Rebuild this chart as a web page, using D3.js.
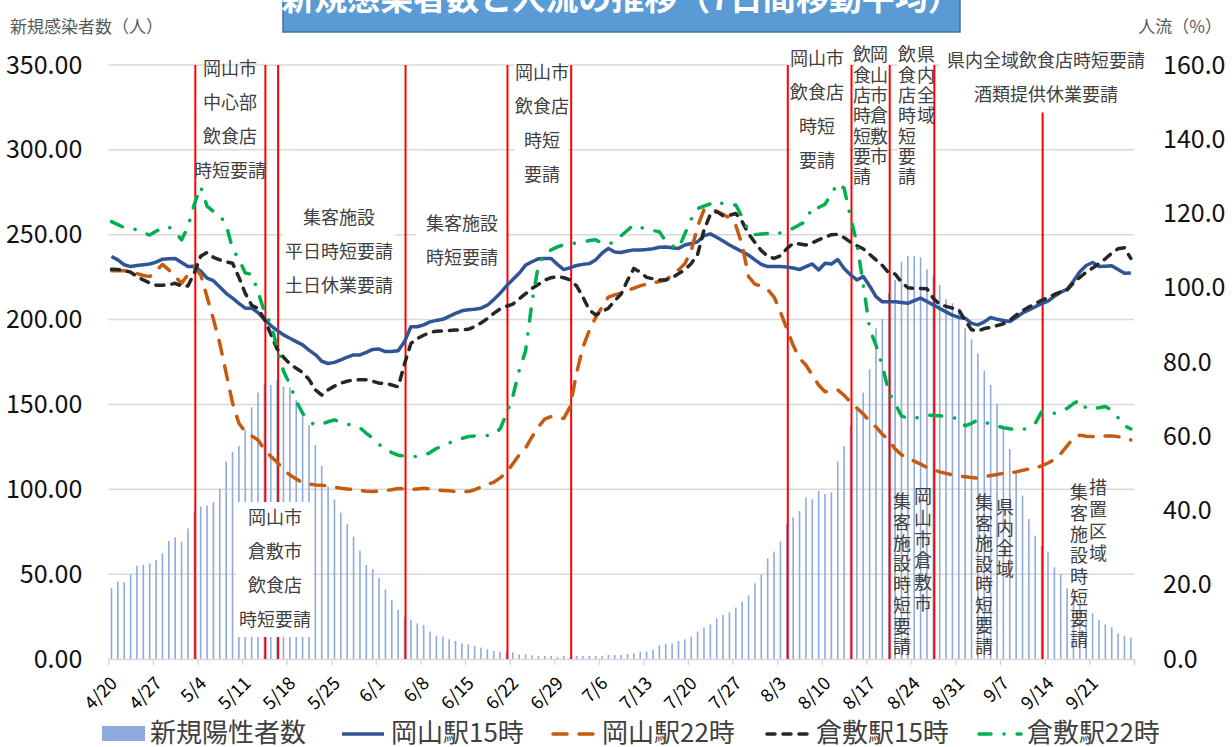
<!DOCTYPE html>
<html>
<head>
<meta charset="utf-8">
<script src="https://cdn.jsdelivr.net/npm/d3@7"></script>
<style>
  body { margin: 0; background: #fff; }
  svg { display: block; font-family: "Noto Sans CJK JP", "Noto Sans", sans-serif; }
</style>
</head>
<body>
<svg id="chart" width="1232" height="747"></svg>
<script>
// daily categories 4/20 .. 9/27
const DAYS = d3.timeDay.range(new Date(2021, 3, 20), new Date(2021, 8, 28));

// 新規陽性者数 (7日間移動平均, left axis)
const CASES = [
  41.7, 45.6, 45.2, 49.9, 55.0, 55.4, 56.4, 58.3, 62.3, 69.5,
  71.7, 69.1, 77.0, 86.8, 89.8, 90.3, 92.3, 100.2, 116.3, 122.0,
  125.5, 135.0, 148.3, 157.0, 162.0, 161.5, 164.4, 160.5, 160.0, 152.6,
  145.7, 137.9, 126.1, 113.7, 101.5, 94.1, 86.2, 79.4, 72.1, 63.8,
  55.4, 52.9, 47.7, 41.1, 34.8, 28.9, 24.9, 23.0, 21.0, 20.0,
  16.1, 13.6, 13.2, 11.6, 10.6, 9.2, 8.6, 7.7, 6.7, 5.7,
  4.7, 4.3, 4.3, 3.9, 2.7, 2.7, 2.2, 1.8, 1.8, 1.8,
  1.2, 1.8, 0.8, 1.8, 1.8, 1.8, 1.8, 1.8, 2.4, 2.4,
  2.4, 3.0, 3.3, 4.3, 4.3, 5.3, 8.1, 8.8, 9.2, 10.6,
  11.6, 13.2, 16.1, 18.5, 20.4, 24.0, 26.0, 27.5, 30.3, 33.8,
  37.5, 44.6, 49.5, 59.3, 63.3, 69.2, 79.6, 83.5, 87.2, 95.1,
  94.1, 99.0, 97.2, 98.2, 116.3, 125.5, 137.3, 149.1, 157.0, 170.7,
  194.9, 200.2, 215.5, 223.3, 234.1, 237.5, 237.5, 236.7, 229.6, 226.1,
  220.4, 212.0, 209.6, 206.7, 194.9, 188.4, 180.0, 169.9, 161.5, 150.3,
  135.9, 123.7, 109.4, 96.2, 82.5, 72.7, 66.6, 63.3, 54.0, 50.1,
  41.7, 36.7, 31.8, 29.0, 26.9, 23.0, 20.4, 18.7, 15.1, 13.7,
  12.6
];

// 人流 (%, right axis)
const OKAYAMA_15 = [
  108.4, 107.5, 106.2, 105.7, 106.0, 106.2, 106.4, 106.9, 107.7, 107.8,
  107.9, 106.8, 105.7, 105.8, 104.5, 102.6, 101.9, 100.2, 98.5, 97.2,
  95.8, 94.5, 94.5, 93.3, 91.5, 89.8, 88.5, 87.3, 86.4, 85.5,
  84.6, 83.2, 82.0, 80.2, 79.6, 79.9, 80.6, 81.3, 81.9, 81.9,
  82.6, 83.4, 83.5, 82.8, 82.8, 83.0, 85.5, 89.5, 89.5, 90.0,
  90.8, 91.2, 91.5, 92.3, 93.1, 93.8, 94.1, 94.2, 94.5, 95.3,
  96.8, 98.5, 100.5, 102.2, 103.9, 106.1, 107.0, 107.8, 107.9, 107.9,
  106.3, 104.9, 105.4, 106.0, 106.3, 106.5, 107.5, 109.3, 110.6, 109.6,
  109.5, 109.9, 110.2, 110.2, 110.3, 110.5, 110.9, 111.0, 110.8, 110.6,
  111.5, 111.9, 112.4, 114.0, 114.5, 113.6, 112.6, 111.5, 110.6, 109.7,
  108.8, 107.5, 106.3, 105.7, 105.7, 105.7, 105.6, 105.3, 104.9, 105.7,
  106.4, 104.8, 106.6, 106.4, 107.6, 105.2, 103.5, 102.1, 103.0, 100.5,
  97.6, 96.2, 96.2, 96.2, 96.0, 95.8, 96.5, 97.2, 96.3, 95.4,
  94.4, 93.5, 92.6, 92.0, 91.8, 90.4, 90.0, 90.8, 92.0, 91.5,
  91.2, 90.9, 92.0, 93.2, 94.0, 94.9, 95.7, 96.4, 97.7, 98.8,
  99.6, 101.8, 104.3, 106.0, 106.8, 105.7, 105.8, 105.9, 104.9, 103.9,
  104.0
];

const OKAYAMA_22 = [
  104.6, 104.6, 104.6, 104.3, 103.8, 103.3, 103.0, 104.5, 106.3, 104.8,
  103.0, 101.2, 103.5, 105.5, 103.5, 97.5, 91.5, 85.0, 77.0, 69.0,
  63.5, 61.2, 60.1, 59.0, 56.5, 54.6, 53.0, 51.0, 49.6, 48.5,
  47.4, 47.1, 46.9, 46.8, 46.6, 46.3, 46.0, 45.8, 45.6, 45.4,
  45.2, 45.1, 45.2, 45.4, 45.6, 45.9, 45.8, 45.6, 45.8, 46.0,
  45.8, 45.5, 45.4, 45.3, 45.1, 45.1, 45.1, 45.6, 46.3, 47.0,
  47.6, 48.8, 50.2, 52.6, 55.0, 56.8, 59.8, 62.5, 64.6, 65.3,
  65.1, 64.8, 68.0, 77.0, 84.0, 88.5, 92.0, 94.8, 97.5, 98.1,
  98.5, 99.2, 99.9, 100.5, 101.0, 101.3, 101.7, 102.1, 103.4, 104.8,
  106.5, 110.0, 116.5, 121.0, 121.2, 120.6, 119.8, 118.8, 116.8, 111.5,
  103.0, 101.0, 100.4, 99.5, 97.5, 93.5, 89.0, 84.5, 81.0, 79.2,
  76.5, 73.8, 72.0, 72.2, 72.5, 71.0, 69.2, 67.6, 66.0, 64.0,
  62.5, 60.5, 59.0, 56.6, 55.0, 54.1, 53.3, 52.5, 51.6, 51.0,
  50.4, 50.0, 49.6, 49.3, 49.1, 48.9, 48.7, 49.1, 49.4, 49.7,
  50.0, 50.2, 50.4, 50.8, 51.2, 51.5, 52.0, 52.8, 53.7, 55.3,
  57.4, 59.5, 60.3, 60.0, 59.9, 60.0, 60.1, 60.1, 59.9, 59.5,
  59.0
];

const KURASHIKI_15 = [
  105.0, 104.9, 104.7, 104.2, 103.0, 102.1, 101.3, 100.7, 100.7, 100.8,
  101.2, 100.4, 100.5, 104.0, 108.5, 109.5, 108.2, 107.5, 107.0, 106.6,
  102.8, 98.5, 95.3, 94.4, 91.5, 87.5, 83.5, 81.3, 79.5, 78.3,
  77.2, 75.3, 72.5, 71.1, 72.5, 73.5, 74.3, 74.8, 75.2, 75.2,
  75.2, 74.8, 74.3, 74.3, 73.8, 73.3, 79.5, 85.0, 86.3, 87.2,
  88.0, 88.3, 88.4, 88.5, 88.6, 88.7, 88.8, 89.5, 90.5, 91.7,
  93.1, 94.3, 95.0, 95.6, 97.0, 98.4, 99.8, 100.9, 102.0, 102.7,
  103.0, 102.7, 102.1, 100.5, 97.5, 94.0, 92.7, 93.5, 94.5, 96.5,
  98.3, 102.0, 105.2, 104.2, 102.8, 102.4, 102.1, 102.1, 102.7, 103.8,
  104.8, 106.5, 109.0, 115.5, 119.8, 120.5, 119.4, 119.5, 120.0, 117.8,
  114.5, 112.2, 110.0, 108.5, 107.9, 108.6, 110.5, 112.0, 111.8, 111.5,
  112.1, 112.9, 113.6, 114.3, 114.4, 113.5, 112.3, 111.3, 110.5, 109.0,
  107.5, 106.0, 104.0, 103.7, 101.5, 100.0, 99.8, 99.8, 99.7, 97.2,
  95.5, 95.0, 94.5, 94.0, 91.2, 88.7, 88.3, 89.0, 89.3, 89.8,
  90.3, 91.2, 92.6, 93.8, 94.8, 95.7, 96.6, 97.3, 98.2, 98.9,
  99.4, 101.3, 102.8, 104.2, 105.3, 106.5, 107.8, 109.3, 110.5, 110.8,
  107.9
];

const KURASHIKI_22 = [
  117.8, 117.0, 116.2, 116.0, 115.6, 114.8, 114.2, 115.2, 116.1, 116.4,
  115.0, 112.9, 116.4, 122.5, 127.2, 122.0, 120.5, 119.5, 117.0, 110.5,
  107.7, 104.0, 103.6, 99.0, 93.5, 90.3, 84.0, 77.5, 74.0, 69.5,
  66.2, 64.0, 63.0, 63.3, 63.9, 64.4, 63.8, 63.3, 62.8, 62.3,
  60.8, 59.5, 57.8, 56.4, 55.6, 54.9, 54.7, 54.5, 54.6, 54.8,
  55.6, 56.7, 57.4, 58.2, 58.8, 59.4, 59.9, 60.1, 60.3, 60.2,
  60.5, 62.0, 66.0, 70.7, 77.8, 83.0, 96.0, 106.0, 109.0, 110.2,
  111.0, 111.6, 111.8, 112.1, 112.4, 112.7, 112.9, 112.0, 111.7, 112.5,
  114.0, 115.5, 116.9, 116.3, 115.7, 115.4, 115.1, 112.5, 111.3, 110.6,
  114.5, 118.5, 121.3, 122.0, 122.6, 123.4, 122.6, 122.3, 122.3, 119.0,
  115.2, 114.3, 114.5, 114.6, 114.2, 114.8, 115.4, 116.0, 117.0, 117.8,
  121.8, 121.6, 122.5, 125.4, 128.1, 126.8, 119.0, 112.0, 101.0, 89.0,
  84.5, 79.0, 72.0, 68.8, 65.5, 64.8, 64.8, 65.2, 65.7, 65.6,
  65.5, 65.3, 65.0, 64.8, 62.8, 63.5, 64.4, 63.9, 63.2, 62.8,
  62.3, 62.0, 61.8, 61.7, 62.5, 63.5, 66.6, 66.4, 66.2, 66.8,
  67.5, 68.8, 69.8, 67.5, 67.3, 67.7, 68.0, 67.0, 65.0, 62.8,
  62.0
];

// 要請の開始日 (red lines)
const EVENT_DATES = ['5/3', '5/14', '5/16', '6/5', '6/21', '7/1', '8/4', '8/14', '8/20', '8/27', '9/13'];
const EVENT_TOPS = [350, 350, 350, 350, 350, 350, 350, 350, 350, 350, 322];

const LEFT_TICKS = [0, 50, 100, 150, 200, 250, 300, 350];
const RIGHT_TICKS = [0, 20, 40, 60, 80, 100, 120, 140, 160];

const SERIES = [
  { name: '岡山駅15時', values: OKAYAMA_15, color: '#2f5597', dash: null },
  { name: '岡山駅22時', values: OKAYAMA_22, color: '#c55a11', dash: '14,12' },
  { name: '倉敷駅15時', values: KURASHIKI_15, color: '#262626', dash: '8,8' },
  { name: '倉敷駅22時', values: KURASHIKI_22, color: '#00b050', dash: '12,13,0.1,13' },
];

const svg = d3.select('#chart');
const M = { left: 108.3, right: 1134, top: 65, bottom: 659 };
const parseDay = (s) => {
  const [m, d] = s.split('/').map(Number);
  return new Date(2021, m - 1, d);
};

const x = d3
  .scaleTime()
  .domain([DAYS[0], d3.timeDay.offset(DAYS[DAYS.length - 1], 1)])
  .range([M.left, M.right]);
const bw = x(DAYS[1]) - x(DAYS[0]);
const cx = (d) => x(d) + bw / 2;
const y = d3.scaleLinear().domain([0, 350]).range([M.bottom, M.top]);
const y2 = d3.scaleLinear().domain([0, 160]).range([M.bottom, M.top]);

// gridlines
svg
  .append('g')
  .selectAll('line')
  .data(LEFT_TICKS.slice(1))
  .join('line')
  .attr('x1', M.left)
  .attr('x2', M.right)
  .attr('y1', (d) => y(d))
  .attr('y2', (d) => y(d))
  .attr('stroke', '#d9d9d9')
  .attr('stroke-width', 1.5);

// bars
svg
  .append('g')
  .selectAll('rect')
  .data(CASES)
  .join('rect')
  .attr('x', (d, i) => cx(DAYS[i]) - 0.8)
  .attr('width', 1.6)
  .attr('y', (d) => y(d))
  .attr('height', (d) => y(0) - y(d))
  .attr('fill', '#8faadc');

// x axis
const tickDays = DAYS.filter((d, i) => i % 7 === 0).concat([x.domain()[1]]);
const xAxis = svg
  .append('g')
  .attr('transform', `translate(0,${M.bottom})`)
  .call(
    d3
      .axisBottom(x)
      .tickValues(tickDays)
      .tickSize(6)
      .tickFormat((d, i) => (i === tickDays.length - 1 ? '' : `${d.getMonth() + 1}/${d.getDate()}`))
  );
xAxis.select('.domain').attr('stroke', '#d9d9d9').attr('stroke-width', 1.5);
xAxis.selectAll('.tick line').attr('stroke', '#d9d9d9').attr('stroke-width', 1.5);
xAxis
  .selectAll('.tick text')
  .attr('font-size', 18)
  .attr('font-family', '"Noto Sans CJK JP", sans-serif')
  .attr('fill', '#000')
  .attr('text-anchor', 'end')
  .attr('x', 0)
  .attr('y', 0)
  .attr('dy', '0.35em')
  .attr('transform', 'translate(5,21) rotate(-45)');

// y axes
const yAxis = svg
  .append('g')
  .attr('transform', `translate(${M.left},0)`)
  .call(d3.axisLeft(y).tickValues(LEFT_TICKS).tickFormat(d3.format('.2f')).tickSize(0).tickPadding(26));
const y2Axis = svg
  .append('g')
  .attr('transform', `translate(${M.right},0)`)
  .call(d3.axisRight(y2).tickValues(RIGHT_TICKS).tickFormat(d3.format('.1f')).tickSize(0).tickPadding(29));
[yAxis, y2Axis].forEach((a) => {
  a.select('.domain').remove();
  a.selectAll('text')
    .attr('font-size', 25)
    .attr('font-family', '"Noto Sans CJK JP", sans-serif')
    .attr('fill', '#111');
});

svg
  .append('text')
  .attr('x', 10)
  .attr('y', 27)
  .attr('dy', '0.35em')
  .attr('font-size', 17)
  .attr('fill', '#595959')
  .text('新規感染者数（人）');
svg
  .append('text')
  .attr('x', 1222)
  .attr('y', 27)
  .attr('dy', '0.35em')
  .attr('text-anchor', 'end')
  .attr('font-size', 17)
  .attr('fill', '#595959')
  .text('人流（%）');

// red lines for requests
svg
  .append('g')
  .selectAll('line')
  .data(EVENT_DATES)
  .join('line')
  .attr('x1', (d) => cx(parseDay(d)) + 1)
  .attr('x2', (d) => cx(parseDay(d)) + 1)
  .attr('y1', (d, i) => y(EVENT_TOPS[i]))
  .attr('y2', y(0))
  .attr('stroke', '#ff0000')
  .attr('stroke-width', 2);

// flow lines
const line = d3
  .line()
  .x((d, i) => cx(DAYS[i]))
  .y((d) => y2(d));
svg
  .append('g')
  .selectAll('path')
  .data(SERIES)
  .join('path')
  .attr('d', (s) => line(s.values))
  .attr('fill', 'none')
  .attr('stroke', (s) => s.color)
  .attr('stroke-width', 3.5)
  .attr('stroke-linecap', (s) => (s.dash ? 'round' : 'butt'))
  .attr('stroke-linejoin', 'round')
  .attr('stroke-dasharray', (s) => s.dash);

// annotations
const NOTES = [
  { lines: ['岡山市', '中心部', '飲食店', '時短要請'], x: 230, y: 69, gap: 34, box: null },
  { lines: ['集客施設', '平日時短要請', '土日休業要請'], x: 339, y: 218, gap: 34, box: [283, 200, 112, 104] },
  { lines: ['集客施設', '時短要請'], x: 462, y: 224, gap: 34, box: [416, 206, 90, 70] },
  { lines: ['岡山市', '飲食店', '時短', '要請'], x: 542, y: 73, gap: 34, box: [514, 52, 54, 140] },
  { lines: ['岡山市', '飲食店', '時短', '要請'], x: 817, y: 59, gap: 34, box: [791, 44, 58, 136] },
  { lines: ['県内全域飲食店時短要請', '酒類提供休業要請'], x: 1046, y: 61, gap: 34, box: [940, 46, 212, 66] },
  { lines: ['岡山市', '倉敷市', '飲食店', '時短要請'], x: 275, y: 518, gap: 34, box: [236, 502, 77, 135] },
];
const VNOTES = [
  { text: '飲食店時短要請', x: 862, y: 55, gap: 20.3, box: [855, 45, 33, 146] },
  { text: '岡山市倉敷市', x: 879, y: 55, gap: 20.3, box: null },
  { text: '飲食店時短要請', x: 907, y: 55, gap: 20.3, box: [897, 45, 36, 146] },
  { text: '県内全域', x: 926, y: 55, gap: 20.3, box: null },
  { text: '集客施設時短要請', x: 902, y: 502, gap: 20.7, box: null },
  { text: '岡山市倉敷市', x: 923, y: 497, gap: 21.3, box: null },
  { text: '集客施設時短要請', x: 984, y: 503, gap: 20.5, box: null },
  { text: '県内全域', x: 1005, y: 508, gap: 20.5, box: null },
  { text: '集客施設時短要請', x: 1079, y: 493, gap: 21, box: null },
  { text: '措置区域', x: 1098, y: 488, gap: 22, box: null },
];

const notes = svg.append('g').attr('font-size', 18).attr('fill', '#404040');
[...NOTES, ...VNOTES]
  .filter((n) => n.box)
  .forEach((n) => {
    notes
      .append('rect')
      .attr('x', n.box[0])
      .attr('y', n.box[1])
      .attr('width', n.box[2])
      .attr('height', n.box[3])
      .attr('fill', '#fff');
  });
NOTES.forEach((n) => {
  notes
    .selectAll(null)
    .data(n.lines)
    .join('text')
    .attr('x', n.x)
    .attr('y', (d, i) => n.y + i * n.gap)
    .attr('dy', '0.35em')
    .attr('text-anchor', 'middle')
    .text((d) => d);
});
VNOTES.forEach((n) => {
  notes
    .selectAll(null)
    .data(Array.from(n.text))
    .join('text')
    .attr('x', n.x)
    .attr('y', (d, i) => n.y + i * n.gap)
    .attr('dy', '0.35em')
    .attr('text-anchor', 'middle')
    .text((d) => d);
});

// title box
svg
  .append('rect')
  .attr('x', 283)
  .attr('y', -12)
  .attr('width', 677)
  .attr('height', 44)
  .attr('fill', '#5b9bd5')
  .attr('stroke', '#41719c')
  .attr('stroke-width', 1.5);
svg
  .append('text')
  .attr('x', 621)
  .attr('y', 10)
  .attr('text-anchor', 'middle')
  .attr('font-size', 33)
  .attr('font-weight', 'bold')
  .attr('fill', '#fff')
  .text('新規感染者数と人流の推移（7日間移動平均）');

// legend
const legend = svg.append('g').attr('font-size', 26).attr('fill', '#404040');
legend.append('rect').attr('x', 102).attr('y', 726).attr('width', 43).attr('height', 15).attr('fill', '#8faadc');
legend.append('text').attr('x', 150).attr('y', 733).attr('dy', '0.35em').text('新規陽性者数');
const LEGEND_X = [340, 551, 765, 977];
SERIES.forEach((s, i) => {
  const lx = LEGEND_X[i];
  legend
    .append('line')
    .attr('x1', lx + 2)
    .attr('x2', lx + 44)
    .attr('y1', 734)
    .attr('y2', 734)
    .attr('stroke', s.color)
    .attr('stroke-width', 3.5)
    .attr('stroke-linecap', s.dash ? 'round' : 'butt')
    .attr('stroke-dasharray', s.dash);
  legend
    .append('text')
    .attr('x', lx + (i === 3 ? 50 : 51))
    .attr('y', 733)
    .attr('dy', '0.35em')
    .text(s.name);
});
</script>
</body>
</html>
